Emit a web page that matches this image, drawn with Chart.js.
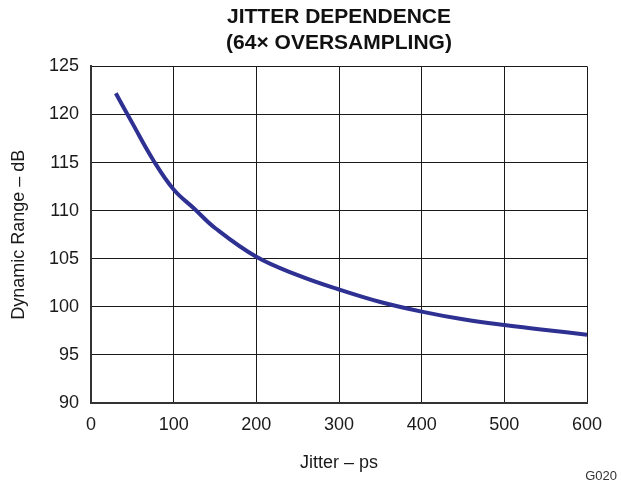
<!DOCTYPE html>
<html>
<head>
<meta charset="utf-8">
<script src="https://cdn.jsdelivr.net/npm/chart.js@4"></script>
<style>
  html, body { margin: 0; padding: 0; background: #fff; }
  #wrap { width: 621px; height: 481px; }
</style>
</head>
<body>
<div id="wrap"><canvas id="myChart"></canvas></div>
<script>
const jitterPs = [30, 50, 75, 100, 125, 150, 200, 250, 300, 350, 400, 450, 500, 550, 600];
const dynamicRangeDb = [122.2, 119.1, 115.3, 112.2, 110.2, 108.2, 105.2, 103.3, 101.8, 100.5, 99.5, 98.7, 98.1, 97.6, 97.1];
const titleLines = ['JITTER DEPENDENCE', '(64\u00d7 OVERSAMPLING)'];
const xTitle = 'Jitter \u2013 ps';
const yTitle = 'Dynamic Range \u2013 dB';
const figId = 'G020';

Chart.defaults.font.family = '"Liberation Sans", Arial, Helvetica, sans-serif';
Chart.defaults.color = '#1a1a1a';

// small label in the bottom right corner
const figLabel = {
  id: 'figLabel',
  afterDraw(chart) {
    const c = chart.ctx;
    c.save();
    c.font = '13px "Liberation Sans", Arial, sans-serif';
    c.fillStyle = '#333';
    c.textAlign = 'right';
    c.textBaseline = 'middle';
    c.fillText(figId, 617, 476);
    c.restore();
  }
};

const ctx = document.getElementById('myChart');

new Chart(ctx, {
  type: 'line',
  data: {
    datasets: [{
      data: jitterPs.map((x, i) => ({ x: x, y: dynamicRangeDb[i] })),
      borderColor: '#2e3092',
      borderWidth: 4,
      pointRadius: 0,
      tension: 0.4,
      fill: false
    }]
  },
  options: {
    responsive: true,
    maintainAspectRatio: false,
    animation: false,
    layout: { padding: { left: 0, right: 34, top: 0, bottom: 0 } },
    plugins: {
      legend: { display: false },
      tooltip: { enabled: false },
      title: {
        display: true,
        text: titleLines,
        fullSize: false,
        color: '#111',
        font: { size: 21, weight: 'bold', lineHeight: 1.2 },
        padding: { top: 5, bottom: 11 }
      }
    },
    scales: {
      x: {
        type: 'linear',
        min: 0,
        max: 600,
        afterFit(s) { s.height = 78; },
        ticks: { stepSize: 100, padding: 11, font: { size: 18 }, maxRotation: 0 },
        grid: { color: '#1a1a1a', lineWidth: 1, drawTicks: false },
        border: { color: '#333', width: 2 },
        title: { display: true, text: xTitle, font: { size: 18 }, padding: { top: 0, bottom: 7 } }
      },
      y: {
        min: 90,
        max: 125,
        afterFit(s) { s.width = 91; },
        ticks: { stepSize: 5, padding: 12, font: { size: 18 } },
        grid: { color: '#1a1a1a', lineWidth: 1, drawTicks: false },
        border: { color: '#333', width: 2 },
        title: { display: true, text: yTitle, font: { size: 18 }, padding: { top: 8, bottom: 0 } }
      }
    }
  },
  plugins: [figLabel]
});
</script>
</body>
</html>
